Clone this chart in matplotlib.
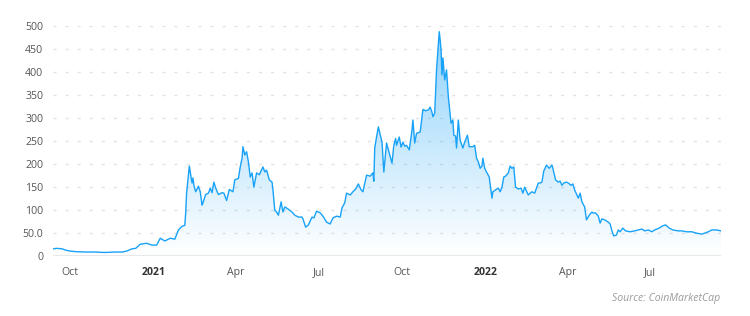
import matplotlib
matplotlib.use("Agg")
import matplotlib.pyplot as plt
import matplotlib.dates as mdates
import numpy as np
import pandas as pd

# price: days since the first point, value in USD
start_date = "2020-09-12"
days = [0, 4, 10, 14, 19, 24, 35, 46, 57, 68, 76, 81, 87, 91, 96, 103, 109, 114,
        118, 123, 129, 134, 138, 142, 145, 146, 147, 150, 152, 153, 154, 155, 157,
        160, 162, 164, 165, 168, 171, 173, 175, 177, 179, 182, 186, 188, 191, 194,
        198, 200, 204, 206, 208, 209, 211, 213, 215, 217, 219, 221, 224, 227, 230,
        231, 233, 235, 238, 241, 242, 244, 246, 248, 251, 253, 255, 259, 263, 266,
        270, 274, 275, 278, 281, 285, 287, 290, 294, 297, 301, 305, 308, 312, 316,
        318, 321, 323, 327, 330, 333, 336, 339, 341, 345, 349, 352, 353, 354, 356,
        358, 360, 362, 364, 367, 370, 373, 375, 377, 378, 381, 383, 385, 387, 389,
        392, 395, 396, 398, 400, 404, 406, 407, 410, 413, 415, 417, 418, 420, 422,
        425, 426, 427, 428, 429, 431, 433, 435, 438, 440, 441, 443, 444, 446, 448,
        451, 453, 456, 458, 462, 464, 466, 468, 470, 472, 473, 475, 477, 480, 483,
        484, 487, 490, 492, 494, 496, 498, 501, 503, 505, 507, 509, 512, 515, 517,
        519, 523, 525, 527, 530, 534, 536, 538, 540, 543, 546, 549, 550, 553, 556,
        558, 560, 562, 565, 567, 570, 572, 574, 578, 580, 582, 585, 587, 590, 593,
        594, 597, 600, 602, 604, 607, 611, 613, 615, 617, 620, 622, 624, 627, 630,
        635, 640, 644, 648, 651, 655, 659, 662, 667, 671, 674, 678, 682, 688, 692,
        697, 703, 708, 714, 717, 721, 725, 730, 735]
price = [15, 16, 15, 12, 10, 9, 8, 8, 7, 8, 8, 10, 15, 16, 25, 27, 23, 23,
         38, 32, 38, 36, 56, 64, 66, 93, 136, 195, 169, 158, 169, 153, 139,
         151, 139, 110, 115, 133, 136, 147, 137, 160, 147, 133, 137, 136, 120, 144,
         139, 165, 168, 193, 212, 237, 219, 226, 204, 171, 180, 149, 180, 176, 189,
         193, 182, 186, 165, 160, 143, 99, 95, 88, 117, 95, 106, 101, 95, 88,
         84, 84, 80, 62, 67, 84, 82, 97, 93, 86, 73, 69, 82, 86, 84,
         104, 115, 136, 132, 139, 145, 156, 143, 139, 175, 173, 180, 162, 234, 258,
         280, 264, 247, 182, 245, 223, 201, 240, 255, 240, 258, 236, 247, 238, 240,
         230, 273, 295, 245, 266, 269, 302, 318, 315, 317, 323, 312, 302, 310, 404,
         487, 469, 447, 393, 430, 382, 404, 345, 288, 295, 262, 260, 234, 295, 251,
         234, 247, 262, 237, 237, 240, 212, 204, 190, 195, 212, 190, 182, 171, 125,
         139, 143, 147, 139, 149, 171, 173, 180, 195, 190, 193, 149, 145, 147, 136,
         149, 132, 136, 139, 136, 158, 158, 160, 184, 197, 190, 197, 190, 165, 160,
         162, 153, 158, 160, 158, 153, 156, 143, 125, 136, 117, 106, 78, 88, 95,
         93, 93, 86, 71, 80, 78, 73, 69, 54, 43, 45, 56, 52, 60, 54,
         52, 54, 56, 58, 54, 56, 52, 56, 60, 65, 67, 60, 56, 54, 54,
         52, 52, 49, 47, 49, 52, 56, 56, 54]

tick_dates = ["2020-10-01", "2021-01-01", "2021-04-01", "2021-07-01",
              "2021-10-01", "2022-01-01", "2022-04-01", "2022-07-01"]
tick_labels = ["Oct", "2021", "Apr", "Jul", "Oct", "2022", "Apr", "Jul"]
y_ticks = [0, 50, 100, 150, 200, 250, 300, 350, 400, 450, 500]
y_labels = ["0", "50.0", "100", "150", "200", "250", "300", "350", "400", "450", "500"]

plt.rcParams['font.family'] = ['Open Sans', 'DejaVu Sans']

dates = pd.Timestamp(start_date) + pd.to_timedelta(days, unit="D")
xnum = mdates.date2num(dates.to_pydatetime())

fig = plt.figure(figsize=(7.5, 3.16), dpi=100)
ax = fig.add_axes([0.0707, 0.1908, 0.8906, 0.7279])

line_color = "#18a2f8"

# gradient fill under the line
poly = ax.fill_between(xnum, price, 0, color="none")
grad = np.zeros((256, 1, 4))
rgb = matplotlib.colors.to_rgb(line_color)
grad[:, 0, 0:3] = rgb
grad[:, 0, 3] = np.linspace(0.5, 0.0, 256)
img = ax.imshow(grad, aspect="auto", extent=[xnum[0], xnum[-1], 0, 500],
                origin="upper", zorder=1)
img.set_clip_path(poly.get_paths()[0], transform=ax.transData)

ax.plot(xnum, price, color=line_color, lw=1.0, zorder=3)

ax.set_xlim(xnum[0], xnum[-1])
ax.set_ylim(0, 500)

for v in y_ticks[1:]:
    ax.axhline(v, color="#e2e2e2", lw=1.0, ls=(0, (2.2, 6.5)), zorder=0)
ax.axhline(0, color="#e8e8e8", lw=2.2, zorder=2)

ax.set_yticks(y_ticks)
ax.set_yticklabels(y_labels)
tick_num = mdates.date2num(pd.to_datetime(tick_dates).to_pydatetime())
ax.set_xticks(tick_num)
ax.set_xticklabels(tick_labels)
ax.tick_params(axis="y", length=0, pad=7, labelsize=7.6, labelcolor="#555555")
ax.tick_params(axis="x", length=0, pad=8, labelsize=7.6, labelcolor="#555555")
for lbl in ax.get_xticklabels():
    if lbl.get_text().isdigit():
        lbl.set_fontweight("bold")
        lbl.set_color("#333333")

for s in ax.spines.values():
    s.set_visible(False)

fig.text(0.961, 1 - 298 / 316, "Source: CoinMarketCap", ha="right", va="center",
         style="italic", fontsize=7.6, color="#9a9a9a")

plt.savefig("out.png", dpi=100)
